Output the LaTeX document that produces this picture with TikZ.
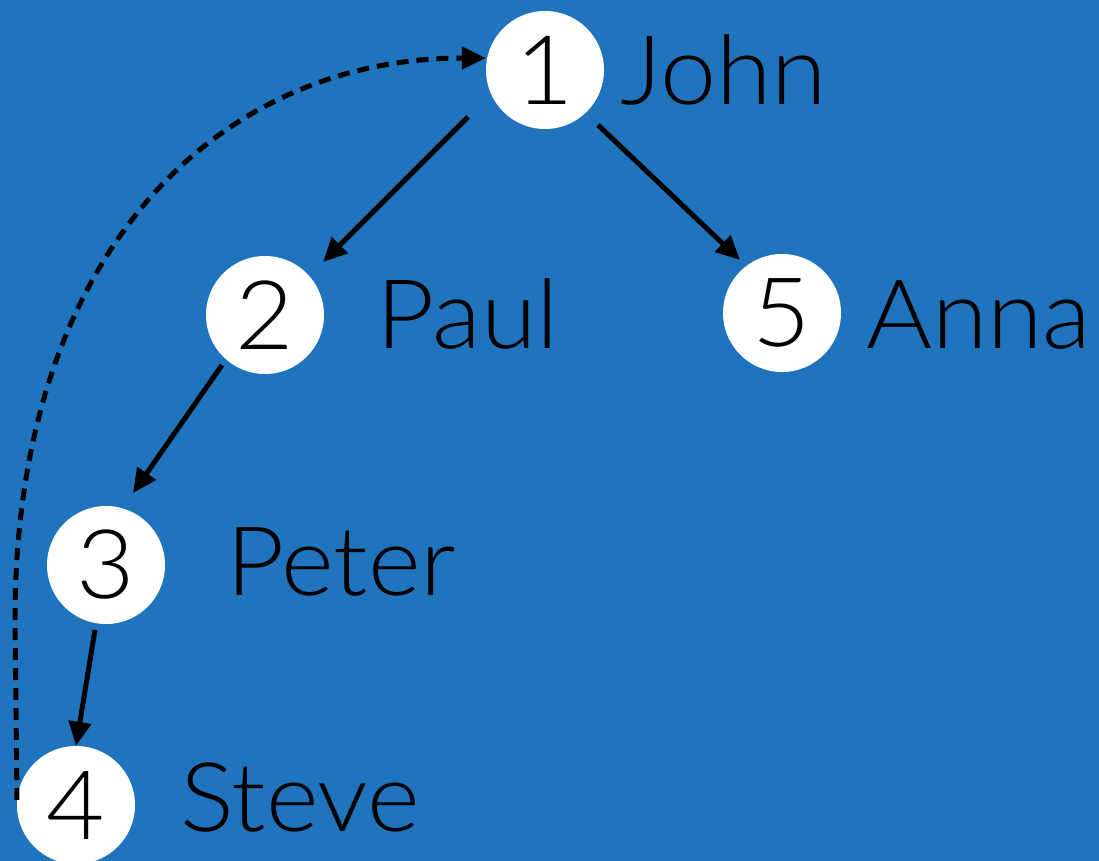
\documentclass[tikz,border=0pt]{standalone}
\usepackage{fontspec}
\setmainfont{Lato}[UprightFont={* Light},FakeStretch=1.05]
\usetikzlibrary{arrows.meta}
\definecolor{bg}{HTML}{1F74BD}
\tikzset{
  circ/.style={circle,fill=white,minimum size=118pt,inner sep=0pt,font=\fontsize{96}{96}\selectfont},
  lbl/.style={anchor=base west,inner sep=0pt,font=\fontsize{96}{96}\selectfont},
  edge/.style={line width=5pt,-{Triangle[length=24pt,width=22pt]}},
  back/.style={line width=5pt,dash pattern=on 12pt off 8pt,-{Triangle[length=24pt,width=22pt]}}
}
\begin{document}
\begin{tikzpicture}[x=1pt,y=-1pt]
\fill[bg] (0,0) rectangle (1099,861);
\useasboundingbox (0,0) rectangle (1099,861);
\node[circ] (n1) at (545,70) {1};
\node[circ] (n2) at (265,315) {2};
\node[circ] (n5) at (782,313) {5};
\node[circ] (n3) at (106,565) {3};
\node[circ] (n4) at (76,805) {4};
\node[lbl] (l1) at (620,105) {John};
\node[lbl] (l2) at (376,348) {Paul};
\node[lbl] (l5) at (866,348) {Anna};
\node[lbl] (l3) at (226,595) {Peter};
\node[lbl] (l4) at (180,831) {Steve};
\draw[edge] ([shift={(-77,47)}]n1.center) -- ([shift={(58,-53)}]n2.center);
\draw[edge] ([shift={(53,55)}]n1.center) -- ([shift={(-42,-53)}]n5.center);
\draw[edge] ([shift={(-43,50)}]n2.center) -- ([shift={(27,-72)}]n3.center);
\draw[edge] ([shift={(-11,65)}]n3.center) -- (n4.north);
\coordinate (d0) at (17,800);
\draw[back] (d0) -- (15,620) .. controls (15,250) and (220,58) .. (n1.west |- 0,58);
\end{tikzpicture}
\end{document}
